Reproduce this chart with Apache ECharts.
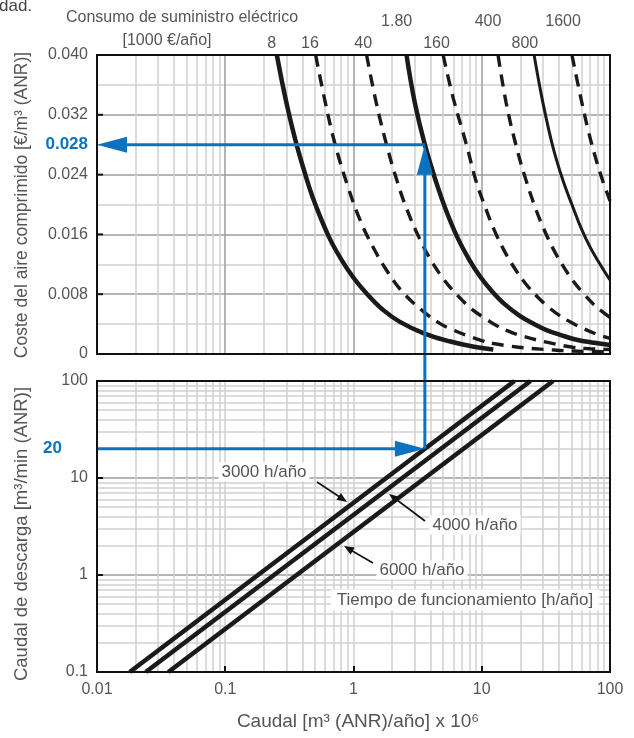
<!DOCTYPE html>
<html><head><meta charset="utf-8">
<script src="https://cdn.jsdelivr.net/npm/echarts@6/dist/echarts.min.js"></script>
<style>html,body{margin:0;padding:0;background:#fff}#c{width:634px;height:738px}</style>
</head><body><div id="c"></div>
<script>
// ---------- data ----------
const flowTicks = [0.01, 0.1, 1, 10, 100];
const costTickLabels = ['0', '0.008', '0.016', '0.024', '0.032', '0.040'];
const dischargeTicks = [0.1, 1, 10, 100];

const curveNames = ['8', '16', '40', '1.80', '160', '400', '800', '1600'];
const curveLabelFlow = [0.23, 0.457, 1.19, 2.17, 4.44, 11.2, 21.7, 43.1];

const curve8 = [[0.2525,0.040],[0.3,0.0336],[0.36,0.0280],[0.45,0.0224],[0.515,0.0196],[0.65,0.0155],[0.8,0.0127],[1.0,0.0102],[1.265,0.0081],[1.7,0.0059],[2.3,0.0043],[3.5,0.0028],[5.6,0.0017],[8.5,0.0010],[12.3,0.0006]];
const curve16 = [[0.507,0.040],[0.6,0.0338],[0.72,0.0280],[0.9,0.0225],[1.12,0.0180],[1.4,0.0145],[1.81,0.0112],[2.44,0.0082],[3.5,0.0057],[4.7,0.0041],[6.0,0.0032],[7.6,0.0025],[10,0.0018],[12.3,0.0014],[16,0.0011],[22,0.0008],[32,0.0006],[50,0.0004],[100,0.0003]];
const curve40 = [[1.265,0.040],[1.5,0.0337],[1.81,0.0280],[2.2,0.0230],[2.6,0.0194],[3.26,0.0155],[4.0,0.0126],[5.0,0.0101],[6.5,0.0078],[8.5,0.0059],[11,0.0046],[13,0.0038],[17,0.0029],[20,0.0025],[28,0.0018],[38,0.0013],[51.5,0.0009],[70,0.0007],[100,0.0006]];
const curve80 = [[2.59,0.040],[3.0,0.0337],[3.6,0.0280],[4.43,0.0229],[5.3,0.0191],[6.5,0.0155],[8.0,0.0126],[9.67,0.0104],[12,0.0084],[15,0.0067],[19.8,0.0051],[25,0.0041],[32,0.0032],[42,0.0025],[55,0.0019],[75,0.0015],[100,0.0012]];
const curve160 = [[5.0,0.040],[6.0,0.0342],[7.6,0.0280],[9.0,0.0232],[10.57,0.0198],[12.5,0.0166],[15,0.0138],[18,0.0115],[22,0.0094],[27,0.0077],[33,0.0063],[40,0.0052],[50,0.0042],[62,0.0034],[80,0.0026],[100,0.0021]];
const curve400 = [[13.4,0.040],[15.5,0.0336],[18.7,0.0276],[22,0.0234],[26,0.0197],[30,0.0170],[36,0.0141],[43,0.0118],[52,0.0097],[62,0.0081],[75,0.0066],[88,0.0056],[100,0.0049]];
const curve800 = [[25.6,0.040],[30,0.0336],[36,0.0276],[43,0.0232],[51.5,0.0196],[60,0.0167],[70,0.0143],[85,0.0118],[100,0.0099]];
const curve1600 = [[50.5,0.040],[58,0.0350],[67,0.0302],[77,0.0263],[88,0.0231],[100,0.0205]];

const hours3000 = [[0.018,0.1],[18,100]];
const hours4000 = [[0.024,0.1],[24,100]];
const hours6000 = [[0.036,0.1],[36,100]];
const hourLabels = ['3000 h/año', '4000 h/año', '6000 h/año'];

const exampleFlow = 3.6, exampleDischarge = 20, exampleCost = 0.028;

// ---------- styles ----------
const FONT = "'Liberation Sans', Arial, Helvetica, sans-serif";
const TXT = '#555';
const BLUE = '#0b72c0';
const LIGHT = '#d0d0d0', DARK = '#9c9c9c';

const curves = [curve8, curve16, curve40, curve80, curve160, curve400, curve800, curve1600];
const DASH = [12, 8];
const curveStyles = [
  {w:4.5, t:'solid'}, {w:3.4, t:DASH}, {w:3.4, t:DASH}, {w:4.5, t:'solid'},
  {w:3.4, t:DASH}, {w:3.4, t:DASH}, {w:3.0, t:'solid'}, {w:3.4, t:DASH}
];
const curveLabelRow = [1,1,1,0,1,0,1,0];

// minor log gridline positions (axis structure)
const minorX = [];
for (let d = 0.01; d < 99; d *= 10) for (let m = 2; m <= 9; m++) minorX.push(+(d*m).toPrecision(3));
const minorY = [];
for (let d = 0.1; d < 99; d *= 10) for (let m = 2; m <= 9; m++) minorY.push(+(d*m).toPrecision(3));

const chart = echarts.init(document.getElementById('c'), null, {renderer:'canvas'});

const gridTop = {left:97, top:55, width:513, height:299};
const gridBot = {left:97, top:381, width:513, height:291};

const series = [];
series.push({
  type:'line', xAxisIndex:0, yAxisIndex:0, data:[[0.01,0]], symbol:'none', lineStyle:{width:0}, silent:true, z:1,
  markLine:{silent:true, symbol:['none','none'], label:{show:false}, animation:false,
    lineStyle:{color:LIGHT, width:1.5, type:'solid'}, emphasis:{disabled:true},
    data: minorX.map(v => ({xAxis:v}))}
});
series.push({
  type:'line', xAxisIndex:1, yAxisIndex:1, data:[[0.01,0.1]], symbol:'none', lineStyle:{width:0}, silent:true, z:1,
  markLine:{silent:true, symbol:['none','none'], label:{show:false}, animation:false,
    lineStyle:{color:LIGHT, width:1.5, type:'solid'}, emphasis:{disabled:true},
    data: minorX.map(v => ({xAxis:v})).concat(minorY.map(v => ({yAxis:v})))}
});
curves.forEach((c, i) => {
  series.push({
    type:'line', name:curveNames[i], xAxisIndex:0, yAxisIndex:0, data:c, symbol:'none',
    smooth:0.4, z:5, silent:true,
    lineStyle:{color:'#1a1a1a', width:curveStyles[i].w, type:curveStyles[i].t, cap:'butt'}
  });
});
[hours3000, hours4000, hours6000].forEach((h, i) => {
  series.push({
    type:'line', name:hourLabels[i], xAxisIndex:1, yAxisIndex:1, data:h, symbol:'none', z:5, silent:true,
    lineStyle:{color:'#1a1a1a', width:4.6}
  });
});

chart.setOption({
  animation:false,
  backgroundColor:'#fff',
  textStyle:{fontFamily:FONT},
  grid:[gridTop, gridBot],
  xAxis:[
    {type:'log', logBase:10, gridIndex:0, min:flowTicks[0], max:flowTicks[4],
     axisLine:{show:false}, axisTick:{show:false}, axisLabel:{show:false},
     splitLine:{show:true, lineStyle:{color:DARK, width:1.5}}},
    {type:'log', logBase:10, gridIndex:1, min:flowTicks[0], max:flowTicks[4],
     axisLine:{show:false}, axisTick:{show:true, inside:true, length:6, lineStyle:{color:'#111', width:2}},
     axisLabel:{show:true, fontSize:16, color:TXT, margin:10, fontFamily:FONT,
       formatter: v => { const i = flowTicks.findIndex(t => Math.abs(Math.log10(t) - Math.log10(v)) < 1e-6); return i >= 0 ? String(flowTicks[i]) : ''; }},
     splitLine:{show:true, lineStyle:{color:LIGHT, width:1.5}}}
  ],
  yAxis:[
    {type:'value', gridIndex:0, min:0, max:0.04, interval:0.004,
     axisLine:{show:false}, axisTick:{show:false},
     axisLabel:{show:true, fontSize:16, color:TXT, margin:9, fontFamily:FONT,
       formatter: v => {
         if (Math.abs(v - exampleCost) < 1e-9) return '{b|0.028}';
         const k = v / 0.008; const r = Math.round(k);
         return Math.abs(k - r) < 1e-6 ? costTickLabels[r] : '';
       },
       rich:{b:{fontSize:17, fontWeight:'bold', color:BLUE, fontFamily:FONT}}},
     splitLine:{show:true, lineStyle:{color:[DARK, LIGHT], width:1.5}}},
    {type:'log', logBase:10, gridIndex:1, min:dischargeTicks[0], max:dischargeTicks[3],
     axisLine:{show:false}, axisTick:{show:false},
     axisLabel:{show:true, fontSize:16, color:TXT, margin:9, fontFamily:FONT,
       formatter: v => { const i = dischargeTicks.findIndex(t => Math.abs(Math.log10(t) - Math.log10(v)) < 1e-6); return i >= 0 ? String(dischargeTicks[i]) : ''; }},
     splitLine:{show:true, lineStyle:{color:DARK, width:1.5}}}
  ],
  series: series
});

// ---------- annotations via the library's own scales ----------
const P0 = (x, y) => chart.convertToPixel({gridIndex:0}, [x, y]);
const P1 = (x, y) => chart.convertToPixel({gridIndex:1}, [x, y]);

function arrowHead(x1, y1, x2, y2, L, W, color) {
  const dx = x2 - x1, dy = y2 - y1, len = Math.hypot(dx, dy);
  const ux = dx/len, uy = dy/len, px = -uy, py = ux;
  const bx = x2 - ux*L, by = y2 - uy*L;
  return {type:'polygon', z:60, silent:true,
    shape:{points:[[x2,y2],[bx+px*W, by+py*W],[bx-px*W, by-py*W]]}, style:{fill:color}};
}
function seg(x1, y1, x2, y2, w, color, z) {
  return {type:'line', z:z||60, silent:true, shape:{x1, y1, x2, y2}, style:{stroke:color, lineWidth:w}};
}
function txt(x, y, s, opt) {
  return Object.assign({type:'text', z:70, silent:true, x, y,
    style:Object.assign({text:s, fill:TXT, fontSize:16, fontFamily:FONT, align:'center', verticalAlign:'middle'}, opt || {})});
}

const g = [];
// frames
const t0 = P0(flowTicks[0], 0.04), t1 = P0(flowTicks[4], 0);
const b0 = P1(flowTicks[0], dischargeTicks[3]), b1 = P1(flowTicks[4], dischargeTicks[0]);
g.push({type:'rect', z:80, silent:true, shape:{x:t0[0], y:t0[1], width:t1[0]-t0[0], height:t1[1]-t0[1]}, style:{fill:null, stroke:'#111', lineWidth:2}});
g.push({type:'rect', z:80, silent:true, shape:{x:b0[0], y:b0[1], width:b1[0]-b0[0], height:b1[1]-b0[1]}, style:{fill:null, stroke:'#111', lineWidth:2}});

// small inward ticks on the left frame at labelled values
costTickLabels.forEach((s, i) => {
  if (i === 0 || i === costTickLabels.length - 1) return;
  const p = P0(flowTicks[0], i * 0.008);
  g.push(seg(p[0], p[1], p[0] + 6, p[1], 2, '#111', 81));
});
dischargeTicks.forEach((v, i) => {
  if (i === 0 || i === dischargeTicks.length - 1) return;
  const p = P1(flowTicks[0], v);
  g.push(seg(p[0], p[1], p[0] + 6, p[1], 2, '#111', 81));
});

// blue example path
const A = P1(flowTicks[0], exampleDischarge), B = P1(exampleFlow, exampleDischarge);
const C = P0(exampleFlow, exampleCost), D = P0(flowTicks[0], exampleCost);
const AL = 30, AW = 8;
g.push(seg(A[0], A[1], B[0]-AL+2, B[1], 3, BLUE));
g.push(arrowHead(A[0], A[1], B[0], B[1], AL, AW, BLUE));
g.push(seg(B[0], B[1], C[0], C[1]+AL-2, 3, BLUE));
g.push(arrowHead(B[0], B[1], C[0], C[1], AL, AW, BLUE));
g.push(seg(C[0], C[1], D[0]+AL-2, D[1], 3, BLUE));
g.push(arrowHead(C[0], C[1], D[0], D[1], AL, AW, BLUE));
g.push(txt(A[0]-35, A[1], String(exampleDischarge), {fill:BLUE, fontWeight:'bold', fontSize:17, align:'right'}));

// curve labels above the top panel
curveNames.forEach((n, i) => {
  const p = P0(curveLabelFlow[i], 0.04);
  g.push(txt(p[0], curveLabelRow[i] ? 44 : 22, n, {fontSize:16}));
});
g.push(txt(182, 18, 'Consumo de suministro eléctrico', {fontSize:16}));
g.push(txt(167, 41, '[1000 €/año]', {fontSize:16}));
g.push(txt(-1, 6, 'dad.', {fontSize:17, align:'left', fill:'#444'}));

// axis titles
g.push(txt(22, 205, 'Coste del aire comprimido [€/m³ (ANR)]', {fontSize:17.5}));
g[g.length-1].rotation = Math.PI/2;
g.push(txt(22, 534, 'Caudal de descarga [m³/min (ANR)]', {fontSize:18.5}));
g[g.length-1].rotation = Math.PI/2;
g.push(txt(358, 722, 'Caudal [m³ (ANR)/año] x 10⁶', {fontSize:19}));

// hour annotations
g.push(txt(264, 472, hourLabels[0], {fontSize:17, backgroundColor:'#fff', padding:[1,3]}));
g.push(seg(317, 482, 342, 498.5, 1.6, '#111'));
g.push(arrowHead(317, 482, 347, 502, 10, 4, '#111'));
g.push(txt(475, 525, hourLabels[1], {fontSize:17, backgroundColor:'#fff', padding:[1,3]}));
g.push(seg(425, 521, 393, 497, 1.6, '#111'));
g.push(arrowHead(425, 521, 389, 494, 10, 4, '#111'));
g.push(txt(422, 570, hourLabels[2], {fontSize:17, backgroundColor:'#fff', padding:[1,3]}));
g.push(seg(373, 563, 348, 548.5, 1.6, '#111'));
g.push(arrowHead(373, 563, 344, 546, 10, 4, '#111'));
g.push(txt(465, 600, 'Tiempo de funcionamiento [h/año]', {fontSize:17, backgroundColor:'#fff', padding:[2,6]}));

chart.setOption({graphic: g});
</script></body></html>
